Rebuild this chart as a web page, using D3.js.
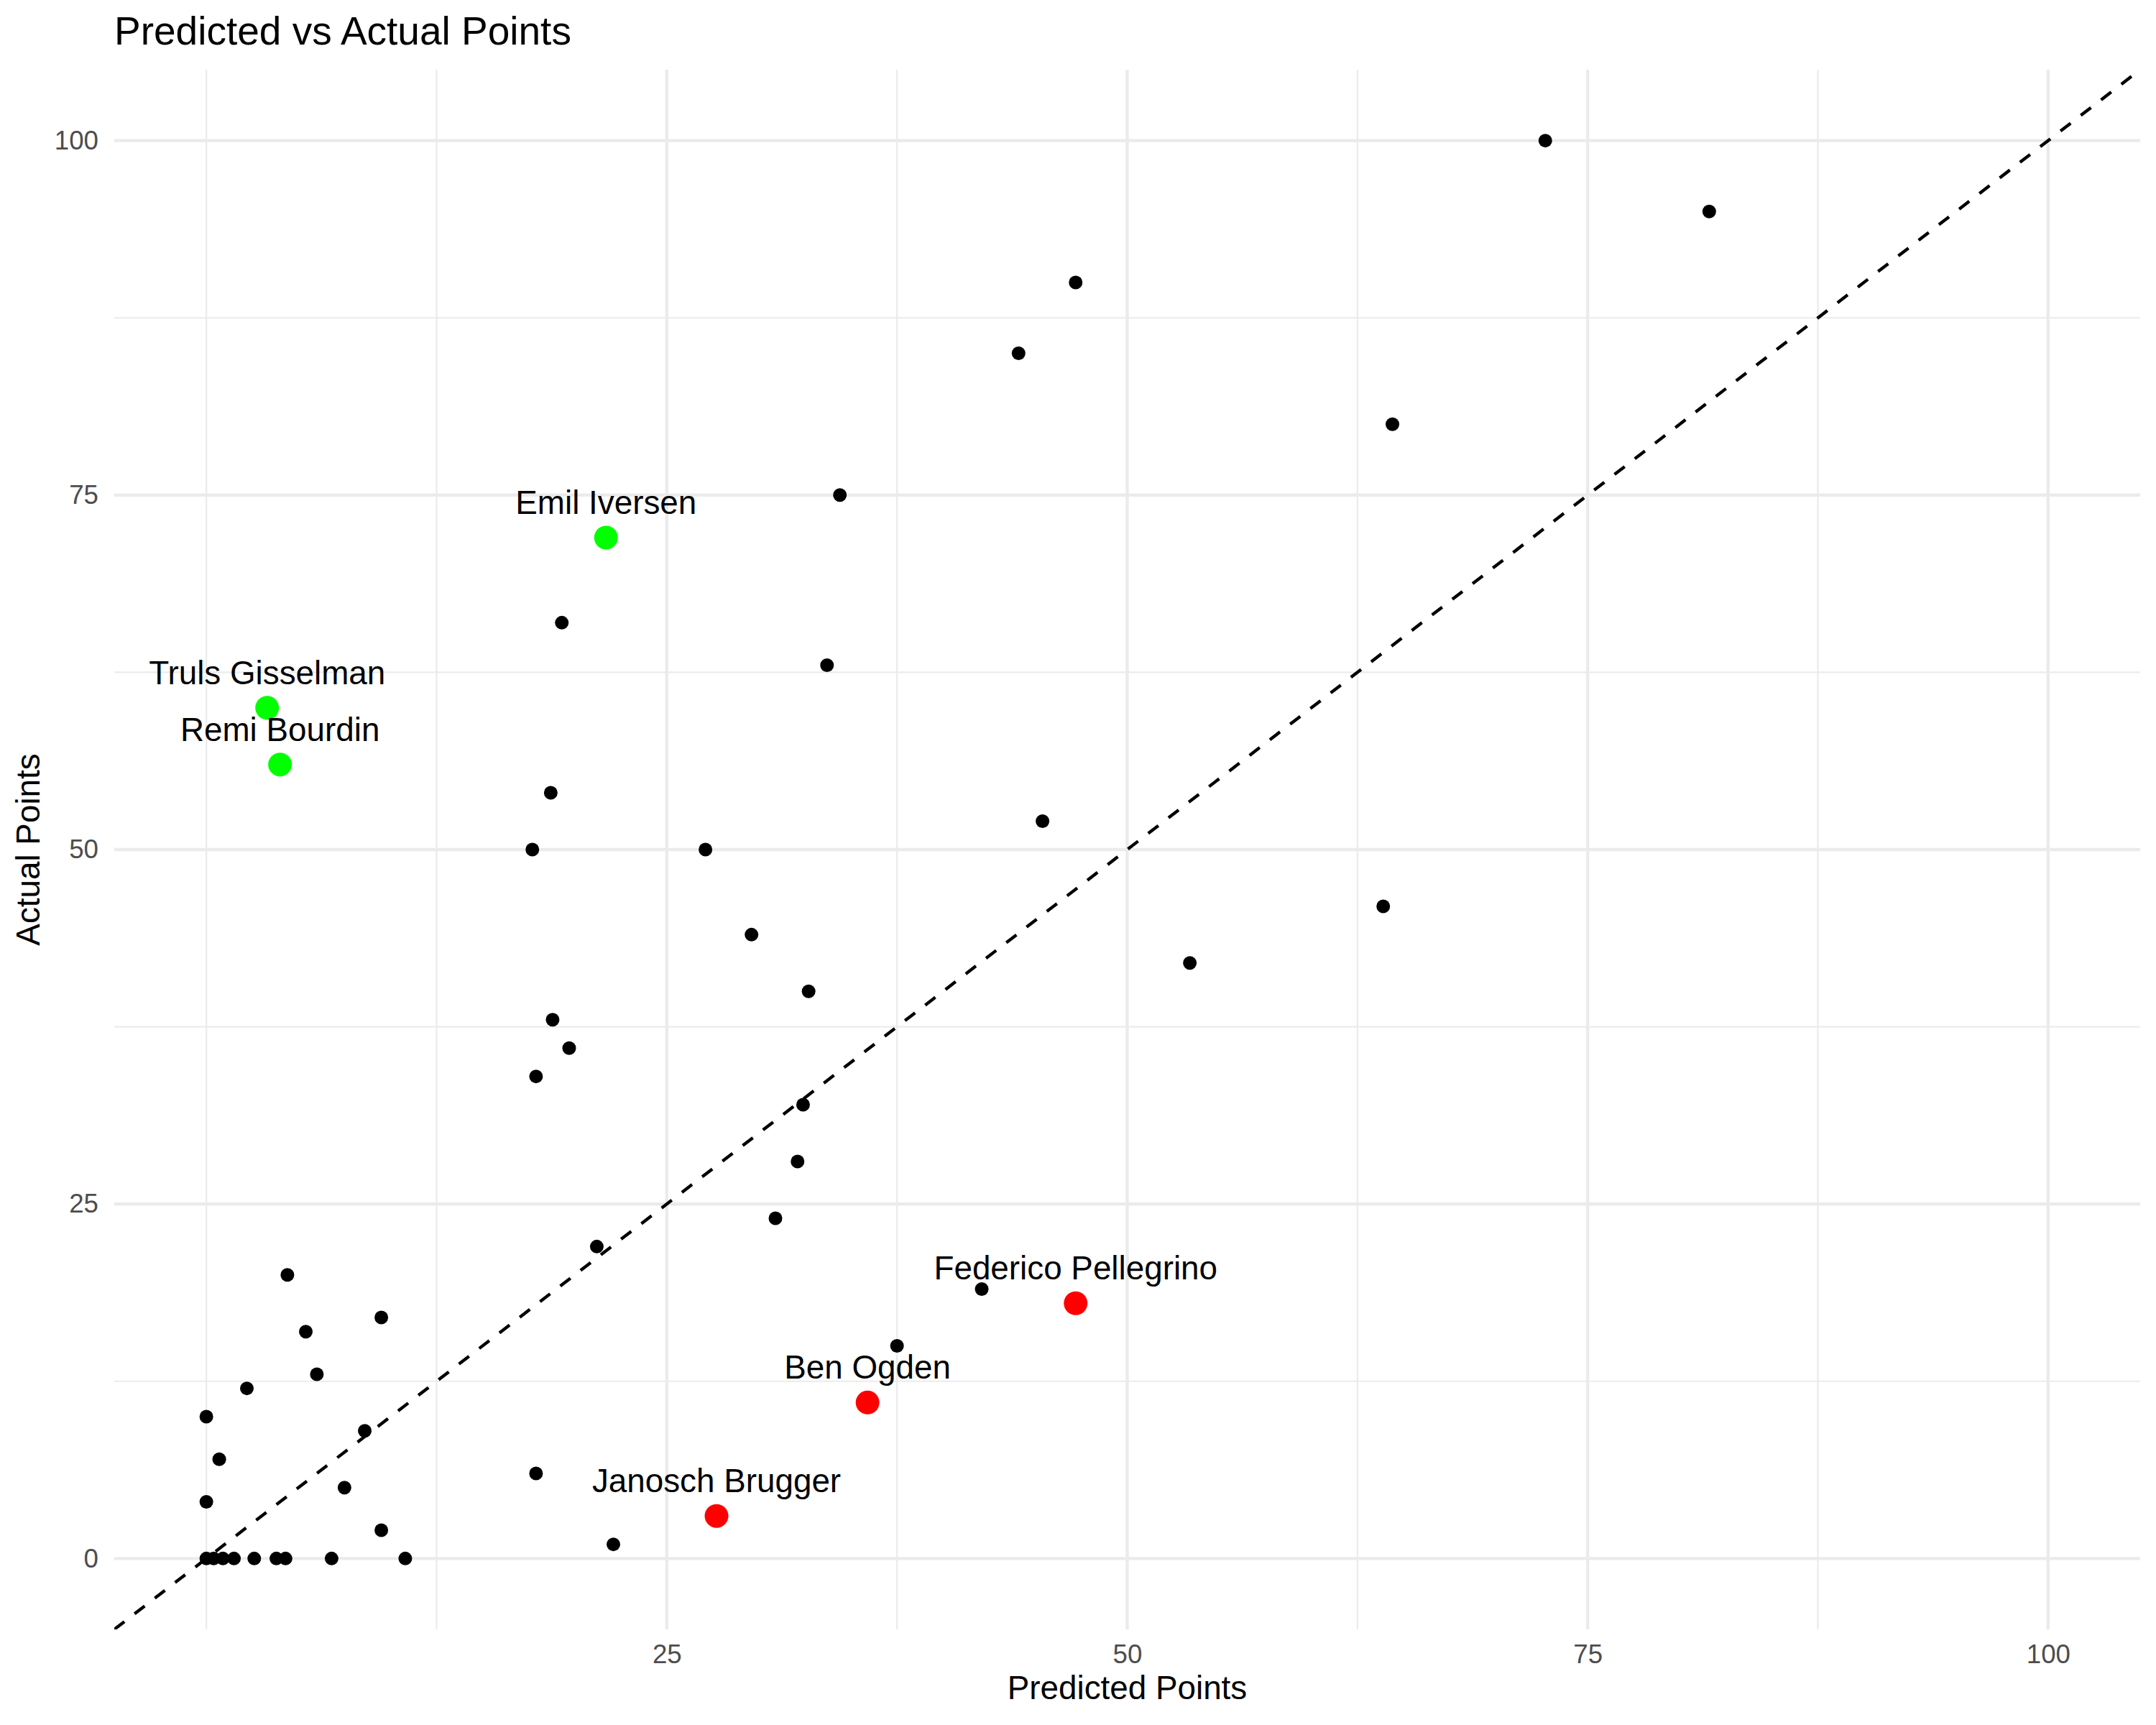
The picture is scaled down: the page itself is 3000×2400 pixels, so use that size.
<!DOCTYPE html>
<html>
<head>
<meta charset="utf-8">
<script src="https://cdn.jsdelivr.net/npm/d3@7"></script>
<style>
  html, body { margin: 0; padding: 0; background: #ffffff; }
  svg text { font-family: "Liberation Sans", Arial, Helvetica, sans-serif; }
</style>
</head>
<body>
<svg id="chart" width="3000" height="2400"></svg>
<script>
// ---- data ----
const predicted = [72.7, 81.6, 47.2, 44.1, 64.4, 34.4, 19.3, 33.7, 18.7, 45.4, 17.7, 27.1, 63.9, 29.6, 53.4, 32.7, 18.8, 19.7, 17.9, 32.4, 32.1, 30.9, 21.2, 4.4, 42.1, 9.5, 5.4, 37.5, 6.0, 2.2, 0.0, 8.6, 0.7, 17.9, 7.5, 0.0, 9.5, 22.1, 0.0, 0.4, 0.9, 1.5, 2.6, 3.8, 4.3, 6.8, 10.8];
const actual    = [100, 95, 90, 85, 80, 75, 66, 63, 54, 52, 50, 50, 46, 44, 42, 40, 38, 36, 34, 32, 28, 24, 22, 20, 19, 17, 16, 15, 13, 12, 10, 9, 7, 6, 5, 4, 2, 1, 0, 0, 0, 0, 0, 0, 0, 0, 0];

const highlightNames     = ["Emil Iversen", "Truls Gisselman", "Remi Bourdin", "Federico Pellegrino", "Ben Ogden", "Janosch Brugger"];
const highlightPredicted = [21.7, 3.3, 4.0, 47.2, 35.9, 27.7];
const highlightActual    = [72, 60, 56, 18, 11, 3];
const highlightGroup     = ["over", "over", "over", "under", "under", "under"];

const xTicks = [25, 50, 75, 100];
const xMinor = [0, 12.5, 37.5, 62.5, 87.5];
const yTicks = [0, 25, 50, 75, 100];
const yMinor = [12.5, 37.5, 62.5, 87.5];

const titleText = "Predicted vs Actual Points";
const xTitle = "Predicted Points";
const yTitle = "Actual Points";

// ---- layout ----
const W = 3000, H = 2400;
const panel = { left: 159, right: 2978, top: 97, bottom: 2267 };
const groupColor = { over: "#00FF00", under: "#FF0000" };

const svg = d3.select("#chart");
svg.append("rect").attr("width", W).attr("height", H).attr("fill", "#ffffff");

const x = d3.scaleLinear().domain([-5, 105]).range([panel.left, panel.right]);
const y = d3.scaleLinear().domain([-5, 105]).range([panel.bottom, panel.top]);

const grid = svg.append("g");
// minor gridlines
grid.selectAll("line.xminor").data(xMinor).join("line")
  .attr("x1", d => x(d)).attr("x2", d => x(d))
  .attr("y1", panel.top).attr("y2", panel.bottom)
  .attr("stroke", "#EBEBEB").attr("stroke-width", 2.2);
grid.selectAll("line.yminor").data(yMinor).join("line")
  .attr("y1", d => y(d)).attr("y2", d => y(d))
  .attr("x1", panel.left).attr("x2", panel.right)
  .attr("stroke", "#EBEBEB").attr("stroke-width", 2.2);
// major gridlines
grid.selectAll("line.xmajor").data(xTicks).join("line")
  .attr("x1", d => x(d)).attr("x2", d => x(d))
  .attr("y1", panel.top).attr("y2", panel.bottom)
  .attr("stroke", "#EBEBEB").attr("stroke-width", 4.4);
grid.selectAll("line.ymajor").data(yTicks).join("line")
  .attr("y1", d => y(d)).attr("y2", d => y(d))
  .attr("x1", panel.left).attr("x2", panel.right)
  .attr("stroke", "#EBEBEB").attr("stroke-width", 4.4);

// clip
svg.append("clipPath").attr("id", "panelClip").append("rect")
  .attr("x", panel.left).attr("y", panel.top)
  .attr("width", panel.right - panel.left).attr("height", panel.bottom - panel.top);

const plot = svg.append("g").attr("clip-path", "url(#panelClip)");

// all points
const pts = predicted.map((p, i) => ({ p, a: actual[i] }));
plot.selectAll("circle.pt").data(pts).join("circle")
  .attr("class", "pt")
  .attr("cx", d => x(d.p)).attr("cy", d => y(d.a))
  .attr("r", 9.5).attr("fill", "#000000");

// highlighted points
const hl = highlightNames.map((n, i) => ({ n, p: highlightPredicted[i], a: highlightActual[i], g: highlightGroup[i] }));
plot.selectAll("circle.hl").data(hl).join("circle")
  .attr("class", "hl")
  .attr("cx", d => x(d.p)).attr("cy", d => y(d.a))
  .attr("r", 16.5).attr("fill", d => groupColor[d.g]);

// identity line
const lineGen = d3.line().x(d => x(d)).y(d => y(d));
plot.append("path").datum([-5, 105])
  .attr("d", lineGen)
  .attr("fill", "none").attr("stroke", "#000000")
  .attr("stroke-width", 4.4).attr("stroke-dasharray", "17.8,17.8");

// labels
svg.selectAll("text.lbl").data(hl).join("text")
  .attr("class", "lbl")
  .attr("x", d => x(d.p)).attr("y", d => y(d.a) - 33)
  .attr("text-anchor", "middle")
  .attr("font-size", 45.8).attr("fill", "#000000")
  .text(d => d.n);

// axes
const xAxis = d3.axisBottom(x).tickValues(xTicks).tickSize(0).tickPadding(21).tickFormat(d3.format("d"));
const gx = svg.append("g").attr("transform", `translate(0,${panel.bottom})`).call(xAxis);
gx.select(".domain").remove();
gx.selectAll("text").attr("font-size", 36.7).attr("fill", "#4D4D4D")
  .style("font-family", '"Liberation Sans", Arial, Helvetica, sans-serif');

const yAxis = d3.axisLeft(y).tickValues(yTicks).tickSize(0).tickPadding(22).tickFormat(d3.format("d"));
const gy = svg.append("g").attr("transform", `translate(${panel.left},0)`).call(yAxis);
gy.select(".domain").remove();
gy.selectAll("text").attr("font-size", 36.7).attr("fill", "#4D4D4D")
  .style("font-family", '"Liberation Sans", Arial, Helvetica, sans-serif');

// titles
svg.append("text").attr("x", panel.left).attr("y", 62)
  .attr("font-size", 55).attr("fill", "#000000").text(titleText);
svg.append("text").attr("x", (panel.left + panel.right) / 2).attr("y", 2364)
  .attr("text-anchor", "middle").attr("font-size", 45.8).attr("fill", "#000000").text(xTitle);
svg.append("text")
  .attr("transform", `translate(55,${(panel.top + panel.bottom) / 2}) rotate(-90)`)
  .attr("text-anchor", "middle").attr("font-size", 45.8).attr("fill", "#000000").text(yTitle);
</script>
</body>
</html>
